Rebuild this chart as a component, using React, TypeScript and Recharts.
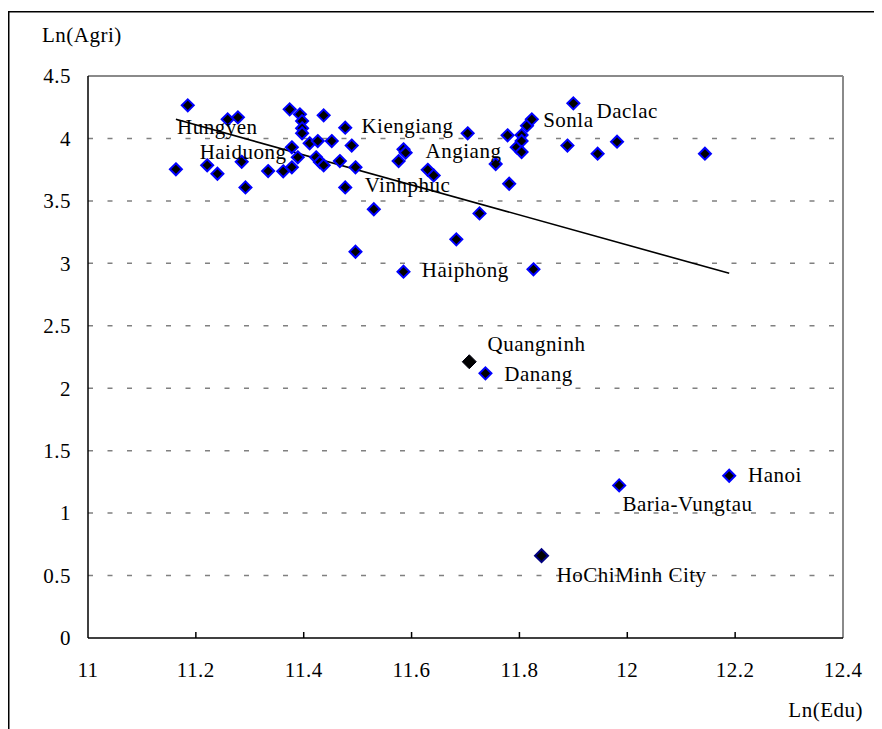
import React from 'react';
import { ScatterChart, Scatter, XAxis, YAxis, ReferenceLine } from 'recharts';

// Provinces (unlabelled and labelled) – Ln(Edu) vs Ln(Agri)
const eduValues = [
  11.185, 11.163, 11.221, 11.24, 11.259, 11.278, 11.285, 11.292, 11.334, 11.362,
  11.374, 11.378, 11.378, 11.389, 11.393, 11.397, 11.397, 11.397, 11.411, 11.426,
  11.423, 11.43, 11.437, 11.437, 11.452, 11.467, 11.477, 11.477, 11.489, 11.496,
  11.53, 11.496, 11.585, 11.589, 11.576, 11.585, 11.63, 11.641, 11.704, 11.726,
  11.683, 11.756, 11.778, 11.781, 11.795, 11.804, 11.804, 11.804, 11.814, 11.823,
  11.826, 11.889, 11.9, 11.945, 11.981, 12.144, 11.737, 11.985, 12.189,
];
const agriValues = [
  4.265, 3.753, 3.785, 3.717, 4.153, 4.169, 3.813, 3.608, 3.739, 3.737,
  4.233, 3.929, 3.769, 3.849, 4.193, 4.139, 4.081, 4.041, 3.961, 3.979,
  3.849, 3.811, 4.185, 3.785, 3.979, 3.819, 4.086, 3.608, 3.943, 3.769,
  3.433, 3.093, 3.913, 3.886, 3.819, 2.933, 3.749, 3.704, 4.041, 3.4,
  3.192, 3.795, 4.025, 3.637, 3.929, 4.027, 3.979, 3.891, 4.102, 4.153,
  2.952, 3.943, 4.281, 3.878, 3.974, 3.878, 2.119, 1.222, 1.299,
];

// Highlighted points
const quangninhEdu = [11.707];
const quangninhAgri = [2.212];
const hcmcEdu = [11.841];
const hcmcAgri = [0.659];

// Fitted trend line end points
const trendEdu = [11.163, 12.189];
const trendAgri = [4.153, 2.92];

// Province labels (anchor at start of text baseline)
const labelNames = [
  'Hungyen', 'Haiduong', 'Kiengiang', 'Vinhphuc', 'Angiang', 'Sonla', 'Daclac',
  'Haiphong', 'Quangninh', 'Danang', 'Hanoi', 'Baria-Vungtau', 'HoChiMinh City',
];
const labelEdu = [
  11.165, 11.207, 11.507, 11.513, 11.626, 11.844, 11.943,
  11.619, 11.741, 11.772, 12.224, 11.991, 11.869,
];
const labelAgri = [
  4.035, 3.835, 4.043, 3.571, 3.843, 4.091, 4.163,
  2.89, 2.298, 2.058, 1.249, 1.017, 0.448,
];

const xTicks = [11, 11.2, 11.4, 11.6, 11.8, 12, 12.2, 12.4];
const yTicks = [0, 0.5, 1, 1.5, 2, 2.5, 3, 3.5, 4, 4.5];
const gridValues = [0.5, 1, 1.5, 2, 2.5, 3, 3.5, 4];

const mainData = eduValues.map((x, i) => ({ x, y: agriValues[i] }));
const quangninhData = quangninhEdu.map((x, i) => ({ x, y: quangninhAgri[i] }));
const hcmcData = hcmcEdu.map((x, i) => ({ x, y: hcmcAgri[i] }));
const trendData = trendEdu.map((x, i) => ({ x, y: trendAgri[i] }));
const labelData = labelNames.map((name, i) => ({ name, x: labelEdu[i], y: labelAgri[i] }));

const FONT = '"Liberation Serif", "Times New Roman", serif';
const FS = 21;

const diamond = (stroke: string, fill: string, r: number, sw: number) => (props: any) => {
  const { cx, cy } = props;
  if (cx == null || cy == null) return <g />;
  return (
    <polygon
      points={`${cx},${cy - r} ${cx + r},${cy} ${cx},${cy + r} ${cx - r},${cy}`}
      fill={fill}
      stroke={stroke}
      strokeWidth={sw}
    />
  );
};

const LabelShape = (props: any) => {
  const { cx, cy, payload } = props;
  return (
    <text x={cx} y={cy} fontFamily={FONT} fontSize={FS} letterSpacing={0.5} fill="#000" textAnchor="start">
      {payload.name}
    </text>
  );
};

// Axis at svg y = 630 (plot bottom)
const XTick = (props: any) => {
  const { x, payload } = props;
  const v = payload.value;
  const axisY = 630;
  return (
    <g>
      {v > 11 && v < 12.4 ? (
        <line x1={x} x2={x} y1={axisY} y2={axisY - 6} stroke="#000" strokeWidth={1.5} />
      ) : null}
      <text x={x} y={axisY + 24} dy="0.71em" textAnchor="middle" fontFamily={FONT} fontSize={FS} letterSpacing={0.5} fill="#000">
        {v}
      </text>
    </g>
  );
};

// Axis at svg x = 80 (plot left)
const YTick = (props: any) => {
  const { y, payload } = props;
  const axisX = 80;
  return (
    <text x={axisX - 17} y={y} dy="0.35em" textAnchor="end" fontFamily={FONT} fontSize={FS} letterSpacing={0.5} fill="#000">
      {payload.value}
    </text>
  );
};

export default function App() {
  const W = 874;
  const H = 721;
  return (
    <div style={{ position: 'relative', width: W, height: H, overflow: 'hidden', background: '#fff' }}>
      <ScatterChart
        width={W}
        height={H}
        margin={{ top: 68, right: 39, bottom: 31, left: 20 }}
      >
        <XAxis
          type="number"
          dataKey="x"
          domain={[11, 12.4]}
          ticks={xTicks}
          allowDataOverflow
          height={60}
          tickSize={0}
          tickLine={false}
          axisLine={{ stroke: '#000', strokeWidth: 1.5 }}
          tick={XTick}
          interval={0}
        />
        <YAxis
          type="number"
          dataKey="y"
          domain={[0, 4.5]}
          ticks={yTicks}
          allowDataOverflow
          width={60}
          tickSize={0}
          tickLine={false}
          axisLine={{ stroke: '#000', strokeWidth: 1.5 }}
          tick={YTick}
          interval={0}
        />
        {gridValues.map((v) => (
          <ReferenceLine key={v} y={v} stroke="#808080" strokeWidth={1.5} strokeDasharray="5 14.5" />
        ))}
        <ReferenceLine y={4.5} stroke="#8a8a8a" strokeWidth={2} />
        <ReferenceLine x={12.4} stroke="#8a8a8a" strokeWidth={2} />
        <Scatter
          data={trendData}
          line={{ stroke: '#000', strokeWidth: 1.6 }}
          shape={() => <g />}
          isAnimationActive={false}
        />
        <Scatter data={mainData} shape={diamond('#0000ff', '#000', 6, 2)} isAnimationActive={false} />
        <Scatter data={quangninhData} shape={diamond('#000010', '#000', 7, 1)} isAnimationActive={false} />
        <Scatter data={hcmcData} shape={diamond('#000080', '#000', 6.5, 2)} isAnimationActive={false} />
        <Scatter data={labelData} shape={<LabelShape />} isAnimationActive={false} />
      </ScatterChart>
      <svg
        width={W}
        height={H}
        style={{ position: 'absolute', left: 0, top: 0, pointerEvents: 'none' }}
      >
        <line x1={0.75} x2={0.75} y1={3} y2={H} stroke="#000" strokeWidth={1.5} />
        <line x1={0} x2={W} y1={3.75} y2={3.75} stroke="#000" strokeWidth={1.5} />
        <text x={34} y={34} fontFamily={FONT} fontSize={FS} letterSpacing={0.5} fill="#000">
          Ln(Agri)
        </text>
        <text x={855} y={709} textAnchor="end" fontFamily={FONT} fontSize={FS} letterSpacing={0.5} fill="#000">
          Ln(Edu)
        </text>
      </svg>
    </div>
  );
}
